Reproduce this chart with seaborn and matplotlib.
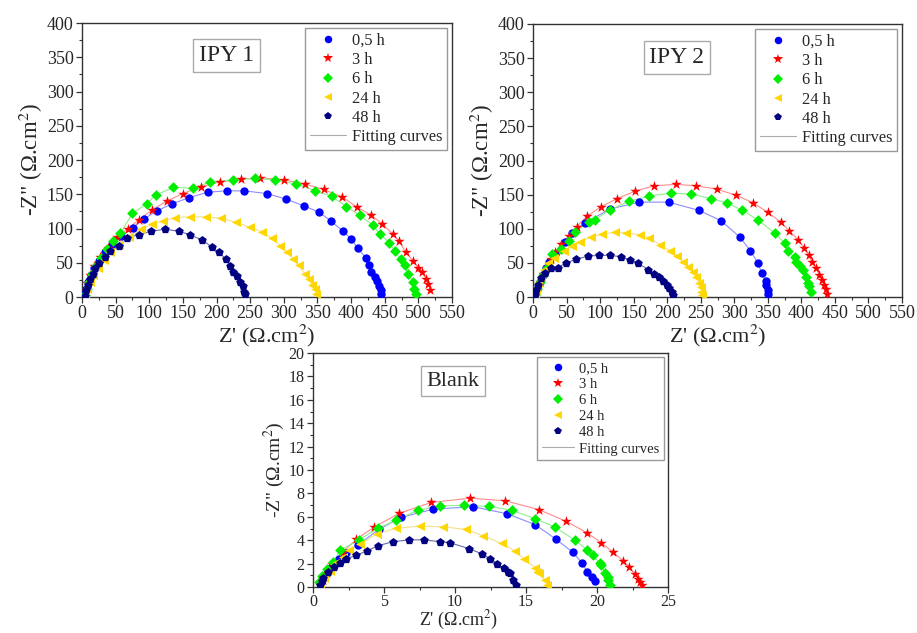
import matplotlib
matplotlib.use("Agg")
import matplotlib.pyplot as plt
import seaborn as sns
from matplotlib.ticker import MultipleLocator
from matplotlib.lines import Line2D

# Immersion times and their marker styles
TIMES = ["0,5 h", "3 h", "6 h", "24 h", "48 h"]
COLORS = ["#0000ff", "#ff0000", "#00ee00", "#ffd700", "#000080"]
FIT_COLORS = ["#8c8cff", "#ff8c8c", "#8cf08c", "#f5e08c", "#6a6aa8"]
MARKERS = ["o", "*", "D", "<", "p"]
SIZES = [36, 62, 30, 42, 42]

# ---- IPY 1 : Nyquist data (Z', -Z'') ----
ipy1_x_05 = [4, 6, 9, 13, 18, 25, 34, 45, 58, 76, 92, 112, 134, 159, 187, 215, 241, 275, 303, 330, 352, 370, 388, 400, 410, 422, 426, 430, 435, 439, 442, 444, 445]
ipy1_y_05 = [4, 12, 22, 32, 42, 53, 65, 77, 89, 101, 114, 126, 136, 145, 153, 155, 155, 151, 143, 133, 124, 111, 96, 85, 71, 57, 47, 37, 29, 23, 16, 10, 4]
ipy1_x_3 = [3, 5, 8, 12, 18, 27, 38, 52, 68, 85, 104, 126, 150, 177, 205, 236, 265, 300, 331, 359, 387, 409, 429, 446, 462, 471, 481, 492, 500, 506, 511, 515, 518]
ipy1_y_3 = [3, 10, 20, 32, 45, 58, 72, 87, 100, 113, 127, 140, 151, 161, 168, 172, 174, 171, 165, 157, 146, 131, 120, 107, 92, 82, 66, 53, 43, 36, 27, 19, 10]
ipy1_x_6 = [5, 7, 10, 15, 21, 28, 37, 46, 57, 75, 96, 110, 136, 165, 191, 224, 257, 287, 318, 347, 371, 393, 413, 432, 443, 457, 465, 474, 480, 485, 492, 494, 496]
ipy1_y_6 = [3, 12, 22, 33, 45, 57, 70, 82, 93, 122, 136, 149, 160, 159, 168, 171, 173, 171, 165, 155, 147, 132, 119, 105, 92, 79, 67, 55, 46, 33, 22, 11, 5]
ipy1_x_24 = [5, 8, 12, 17, 24, 32, 42, 55, 70, 88, 104, 120, 138, 161, 185, 207, 229, 249, 268, 282, 295, 305, 313, 322, 331, 337, 342, 347, 348]
ipy1_y_24 = [3, 12, 22, 32, 43, 54, 65, 76, 88, 99, 106, 111, 116, 117, 117, 115, 109, 102, 95, 86, 75, 66, 56, 46, 34, 26, 17, 11, 4]
ipy1_x_48 = [4, 6, 9, 12, 16, 20, 25, 34, 42, 55, 67, 84, 103, 123, 144, 160, 179, 193, 204, 214, 220, 225, 230, 235, 239, 241, 243]
ipy1_y_48 = [2, 10, 18, 26, 34, 42, 49, 58, 67, 75, 86, 91, 96, 99, 96, 91, 83, 73, 65, 55, 45, 37, 30, 22, 16, 8, 4]

# ---- IPY 2 ----
ipy2_x_05 = [3, 6, 10, 15, 20, 24, 33, 47, 58, 78, 115, 158, 202, 247, 280, 308, 324, 335, 341, 347, 348, 350, 351]
ipy2_y_05 = [3, 12, 22, 32, 42, 52, 63, 81, 94, 109, 129, 139, 139, 127, 112, 88, 68, 50, 35, 24, 17, 10, 4]
ipy2_x_3 = [3, 6, 10, 15, 21, 27, 33, 42, 53, 65, 80, 101, 125, 152, 181, 213, 243, 274, 303, 328, 350, 369, 382, 395, 404, 411, 416, 422, 427, 431, 433, 436, 438]
ipy2_y_3 = [3, 12, 22, 33, 44, 55, 66, 78, 89, 103, 118, 132, 144, 155, 163, 165, 163, 158, 149, 138, 124, 110, 97, 84, 72, 61, 51, 42, 32, 25, 18, 12, 5]
ipy2_x_6 = [3, 6, 10, 15, 21, 28, 41, 54, 63, 83, 92, 115, 143, 173, 205, 236, 266, 289, 312, 335, 360, 375, 380, 390, 392, 398, 403, 407, 410, 412, 414]
ipy2_y_6 = [3, 12, 22, 32, 43, 63, 70, 82, 95, 110, 113, 128, 140, 148, 152, 151, 144, 138, 127, 113, 94, 79, 67, 59, 51, 45, 39, 30, 21, 16, 7]
ipy2_x_24 = [3, 5, 8, 12, 17, 23, 32, 46, 58, 70, 87, 103, 122, 139, 159, 173, 190, 204, 215, 224, 231, 238, 243, 247, 250, 251, 252]
ipy2_y_24 = [3, 10, 20, 30, 40, 50, 57, 67, 74, 81, 88, 92, 95, 94, 91, 87, 76, 68, 60, 52, 44, 37, 29, 21, 15, 7, 3]
ipy2_x_48 = [3, 5, 8, 12, 18, 27, 37, 49, 64, 82, 99, 115, 131, 145, 156, 172, 181, 188, 194, 199, 203, 207, 209]
ipy2_y_48 = [3, 10, 18, 28, 35, 42, 43, 50, 55, 60, 61, 61, 59, 54, 50, 40, 34, 29, 24, 18, 13, 8, 3]

# ---- Blank ----
blank_x_05 = [0.5, 0.8, 1.2, 1.8, 2.3, 3.16, 4.64, 6.19, 8.46, 11.25, 13.66, 15.63, 17.11, 18.28, 18.96, 19.33, 19.63, 19.87]
blank_y_05 = [0.3, 0.9, 1.6, 2.4, 2.9, 3.59, 4.92, 5.95, 6.65, 6.87, 6.26, 5.34, 4.09, 2.98, 2.03, 1.28, 0.89, 0.53]
blank_x_3 = [0.5, 0.7, 1.0, 1.34, 2.1, 3.05, 4.31, 6.09, 8.34, 11.06, 13.54, 15.89, 17.81, 19.28, 20.31, 21.16, 21.84, 22.28, 22.66, 22.91, 23.01, 23.15]
blank_y_3 = [0.2, 0.6, 1.2, 2.0, 2.98, 4.09, 5.12, 6.31, 7.23, 7.59, 7.37, 6.62, 5.62, 4.65, 3.78, 2.95, 2.25, 1.70, 1.11, 0.70, 0.47, 0.14]
blank_x_6 = [0.4, 0.6, 1.0, 1.4, 1.92, 3.21, 4.59, 5.81, 7.36, 8.95, 10.66, 12.37, 13.99, 15.65, 17.03, 18.44, 19.28, 19.70, 20.22, 20.31, 20.57, 20.78, 20.78, 20.95]
blank_y_6 = [0.4, 0.9, 1.5, 2.1, 3.12, 4.03, 5.01, 5.70, 6.54, 6.93, 6.98, 6.90, 6.56, 5.84, 5.12, 4.01, 3.20, 2.70, 2.03, 1.86, 1.20, 0.83, 0.56, 0.17]
blank_x_24 = [0.5, 0.8, 1.2, 1.7, 2.1, 2.55, 3.33, 4.48, 5.81, 7.5, 9.18, 10.75, 11.95, 13.29, 14.22, 14.86, 15.65, 15.79, 15.89, 16.33, 16.45]
blank_y_24 = [0.2, 0.8, 1.4, 2.1, 2.6, 3.12, 3.67, 4.53, 5.01, 5.20, 5.15, 4.92, 4.39, 3.73, 3.09, 2.42, 1.64, 1.31, 1.17, 0.56, 0.19]
blank_x_48 = [0.5, 0.6, 0.70, 1.03, 1.45, 1.87, 2.34, 3.05, 3.80, 4.59, 5.62, 6.79, 7.83, 8.95, 9.65, 10.99, 11.88, 12.49, 12.96, 13.47, 13.75, 13.87, 14.10, 14.27]
blank_y_48 = [0.2, 0.5, 0.75, 1.31, 1.67, 2.06, 2.42, 2.70, 3.09, 3.53, 3.87, 4.03, 4.03, 3.87, 3.78, 3.28, 2.84, 2.42, 2.00, 1.59, 1.25, 1.17, 0.58, 0.19]

IPY1 = [(ipy1_x_05, ipy1_y_05), (ipy1_x_3, ipy1_y_3), (ipy1_x_6, ipy1_y_6), (ipy1_x_24, ipy1_y_24), (ipy1_x_48, ipy1_y_48)]
IPY2 = [(ipy2_x_05, ipy2_y_05), (ipy2_x_3, ipy2_y_3), (ipy2_x_6, ipy2_y_6), (ipy2_x_24, ipy2_y_24), (ipy2_x_48, ipy2_y_48)]
BLANK = [(blank_x_05, blank_y_05), (blank_x_3, blank_y_3), (blank_x_6, blank_y_6), (blank_x_24, blank_y_24), (blank_x_48, blank_y_48)]

sns.set_theme(style="ticks")
plt.rcParams["font.family"] = ["Liberation Serif", "DejaVu Serif"]
plt.rcParams["mathtext.fontset"] = "stix"

W, H = 917, 633
fig = plt.figure(figsize=(W / 100, H / 100), dpi=100)
fig.patch.set_facecolor("white")


def px_axes(left, top, right, bottom):
    return fig.add_axes([left / W, 1 - bottom / H, (right - left) / W, (bottom - top) / H])


def draw_panel(ax, series, title, title_pos, xlim, ylim, xmaj, xmin, ymaj, ymin,
               tick_fs, xlabel_fs, ylabel_fs, title_fs, leg_fs, xlabel_pad, ylabel_pad):
    for (xs, ys), fc in zip(series, FIT_COLORS):
        sns.lineplot(x=xs, y=ys, sort=False, estimator=None, color=fc, lw=0.8, ax=ax, zorder=2)
    for (xs, ys), c, m, s in zip(series, COLORS, MARKERS, SIZES):
        sns.scatterplot(x=xs, y=ys, color=c, marker=m, s=s, linewidth=0, ax=ax, zorder=3)
    ax.set_xlim(*xlim)
    ax.set_ylim(*ylim)
    ax.xaxis.set_major_locator(MultipleLocator(xmaj))
    ax.xaxis.set_minor_locator(MultipleLocator(xmin))
    ax.yaxis.set_major_locator(MultipleLocator(ymaj))
    ax.yaxis.set_minor_locator(MultipleLocator(ymin))
    ax.tick_params(which="major", length=4, width=0.9, labelsize=tick_fs, pad=2, color="#333333")
    ax.tick_params(which="minor", length=2.5, width=0.8, color="#333333")
    for sp in ax.spines.values():
        sp.set_color("#333333")
        sp.set_linewidth(1.0)
    ax.set_xlabel("Z' (Ω.cm$^2$)", fontsize=xlabel_fs, labelpad=xlabel_pad)
    ax.set_ylabel('-Z" (Ω.cm$^2$)', fontsize=ylabel_fs, labelpad=ylabel_pad)
    ax.text(title_pos[0], title_pos[1], title, transform=ax.transAxes, ha="center", va="center",
            fontsize=title_fs, bbox=dict(boxstyle="square,pad=0.25", fc="white", ec="#aaaaaa", lw=1.0))
    handles = [Line2D([], [], ls="none", marker=m, color=c, markersize=(s ** 0.5) * 0.9, markeredgewidth=0)
               for c, m, s in zip(COLORS, MARKERS, SIZES)]
    handles.append(Line2D([], [], color="#aaaaaa", lw=0.8))
    labels = TIMES + ["Fitting curves"]
    leg = ax.legend(handles, labels, loc="upper right", fontsize=leg_fs, frameon=True, fancybox=False,
                    edgecolor="#999999", framealpha=1, borderaxespad=0.3, handlelength=2.2,
                    handletextpad=0.35, labelspacing=0.2, borderpad=0.3)
    leg.get_frame().set_linewidth(1.0)


ax1 = px_axes(82, 23, 452, 297)
draw_panel(ax1, IPY1, "IPY 1", (0.39, 0.88), (0, 550), (0, 400), 50, 25, 50, 25,
           13, 16, 16.5, 17, 11.8, 0, 1)
ax2 = px_axes(533, 24, 902, 297)
draw_panel(ax2, IPY2, "IPY 2", (0.39, 0.878), (0, 550), (0, 400), 50, 25, 50, 25,
           13, 16, 16.5, 17, 11.8, 0, 1)
ax3 = px_axes(313, 353, 668, 587)
draw_panel(ax3, BLANK, "Blank", (0.394, 0.88), (0, 25), (0, 20), 5, 2.5, 2, 1,
           11.5, 13, 14, 16, 10.5, 0, 1)
ax3.tick_params(axis="x", which="major", pad=1)
# keep the bottom label inside the canvas
ax3.xaxis.set_label_coords(0.5, 1 / H, transform=fig.transFigure)
ax3.xaxis.label.set_va("bottom")

fig.savefig("out.png", dpi=100, facecolor="white")
